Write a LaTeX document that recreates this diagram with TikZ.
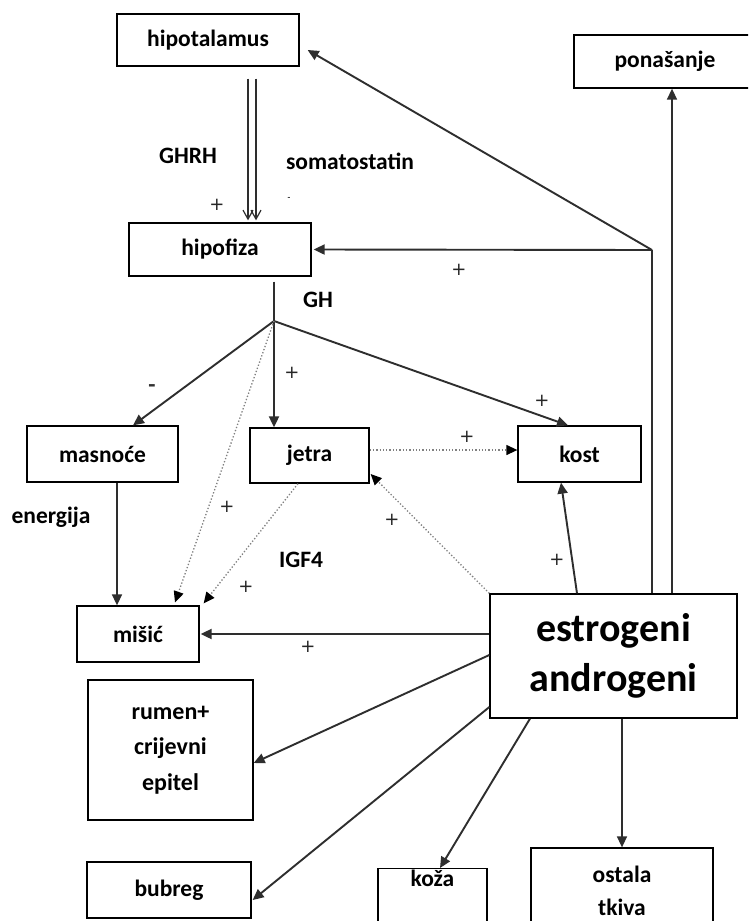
\documentclass[tikz,border=0pt]{standalone}
\usepackage{fontspec}
\setmainfont{Carlito}
\newfontfamily\plusfont{DejaVu Sans}
\usetikzlibrary{arrows.meta,calc}
\definecolor{lineg}{HTML}{2E2E2E}
\definecolor{dotg}{HTML}{808080}
\begin{document}
\begin{tikzpicture}[x=1pt,y=-1pt,
  box/.style={draw=black,line width=1.3pt,fill=white,font=\fontsize{23.5}{28}\selectfont\bfseries,align=center,inner sep=0pt},
  conn/.style={draw=lineg,line width=1.9pt},
  arr/.style={conn,-{Triangle[length=11pt,width=10pt]}},
  thinarr/.style={draw=lineg,line width=1.5pt,-{Triangle[length=11pt,width=10pt]}},
  dotarr/.style={draw=dotg,line width=1.3pt,dotted,-{Triangle[length=11pt,width=10pt,color=black]}},
  openarr/.style={draw=lineg,line width=1.2pt,-{Straight Barb[length=9pt,width=10pt]}},
  lab/.style={font=\fontsize{23.5}{28}\selectfont\bfseries,inner sep=0pt},
  plus/.style={font=\plusfont\fontsize{18}{18}\selectfont,inner sep=0pt,text=black!85},
  minus/.style={font=\fontsize{23.5}{28}\selectfont\bfseries,inner sep=0pt,text=black!80}
]
\clip (0,0) rectangle (748,921);
\fill[white] (0,0) rectangle (748,921);

% boxes
\node[box,minimum width=182pt,minimum height=52pt] (hipotalamus) at (208,40) {hipotalamus};
\node[box,minimum width=182pt,minimum height=53pt] (ponasanje) at (665,61.5) {ponašanje};
\node[box,minimum width=182pt,minimum height=53pt] (hipofiza) at (220,249.5) {hipofiza};
\node[box,minimum width=151pt,minimum height=56pt] (masnoce) at (102.5,454) {masnoće};
\node[box,minimum width=119pt,minimum height=55pt] (jetra) at (309.5,455.5) {jetra};
\node[box,minimum width=123pt,minimum height=56pt] (kost) at (579.5,454) {kost};
\node[box,minimum width=122pt,minimum height=56pt] (misic) at (138,634) {mišić};
\node[box,minimum width=247pt,minimum height=124pt,font=\fontsize{40}{50}\selectfont\bfseries] (estro) at (613.5,656) {estrogeni\\androgeni};
\node[box,minimum width=165pt,minimum height=140pt,font=\fontsize{24}{35.5}\selectfont\bfseries] (rumen) at (170.5,750) {rumen+\\crijevni\\epitel};
\node[box,minimum width=164pt,minimum height=56pt] (bubreg) at (169,890) {bubreg};
\node[box,minimum width=109pt,anchor=north,text height=18pt,text depth=42pt] (koza) at (432.5,868) {koža};
\node[box,minimum width=182pt,minimum height=86pt,font=\fontsize{23.5}{33}\selectfont\bfseries] (ostala) at (622,891) {ostala\\tkiva};

% junction points
\coordinate (J) at (274,321);
\coordinate (C) at (652,250);

% hipotalamus -> hipofiza
\draw[openarr] ([xshift=40pt,yshift=-12pt]hipotalamus.south) -- ([xshift=28pt,yshift=2pt]hipofiza.north);
\draw[openarr] ([xshift=48pt,yshift=-12pt]hipotalamus.south) -- ([xshift=36pt,yshift=2pt]hipofiza.north);

% GH
\draw[conn,shorten <=5pt] (J |- hipofiza.south) -- (J);
\draw[arr] (J) -- ([xshift=30.5pt]masnoce.north);
\draw[arr] (J) -- (J |- jetra.north);
\draw[arr] (J) -- ([xshift=-11.5pt]kost.north);
\draw[dotarr] (J) -- ([xshift=37pt,yshift=3pt]misic.north);
\draw[dotarr] ([xshift=-11.5pt]jetra.south) -- ([xshift=4pt,yshift=2pt]misic.north east);
\draw[thinarr] ([xshift=14.5pt]masnoce.south) -- ([xshift=-21pt]misic.north);
\draw[dotarr] ([yshift=5.5pt]jetra.east) -- ([yshift=4pt]kost.west);

% estrogeni / androgeni
\draw[thinarr] ([xshift=58.5pt]estro.north) -- ([xshift=7pt]ponasanje.south);
\draw[draw=lineg,line width=1.5pt] ([xshift=38.5pt]estro.north) -- (C);
\draw[arr] (C) -- ([xshift=2pt]hipofiza.east);
\draw[arr] (C) -- ([xshift=8pt,yshift=-10pt]hipotalamus.east);
\draw[arr] ([xshift=-36.5pt]estro.north) -- ([xshift=-18.5pt]kost.south);
\draw[dotarr] (estro.north west) -- ([xshift=1pt,yshift=-18.5pt]jetra.east);
\draw[arr] (estro.west |- misic.east) -- ([xshift=1pt]misic.east);
\draw[arr] ([yshift=1pt]estro.west) -- ([yshift=-13pt]rumen.east);
\draw[arr] ([yshift=-51pt]estro.west) -- ([xshift=1pt,yshift=-10pt]bubreg.east);
\draw[arr] ([xshift=-83.5pt]estro.south) -- ([xshift=7.5pt]koza.north);
\draw[thinarr] (estro.south -| ostala.north) -- (ostala.north);

% labels
\node[lab] (ghrh) at (188,156) {GHRH};
\node[lab] (soma) at (350,161) {somatostatin};
\node[lab] (gh) at (318,300) {GH};
\node[lab] (energija) at (51,517) {energija};
\node[lab] (igf) at (301,560) {IGF4};

\node[plus] (p1) at (217,205) {+};
\node[minus,font=\fontsize{9}{9}\selectfont\bfseries] (m1) at (289,199) {-};
\node[plus] (p2) at (459,270) {+};
\node[minus] (m2) at (152,389) {-};
\node[plus] (p3) at (292,373) {+};
\node[plus] (p4) at (542,401) {+};
\node[plus] (p5) at (467,437) {+};
\node[plus] (p6) at (227,507) {+};
\node[plus] (p7) at (392,520) {+};
\node[plus] (p8) at (557,560) {+};
\node[plus] (p9) at (246,587) {+};
\node[plus] (p10) at (308,647) {+};
\end{tikzpicture}
\end{document}
